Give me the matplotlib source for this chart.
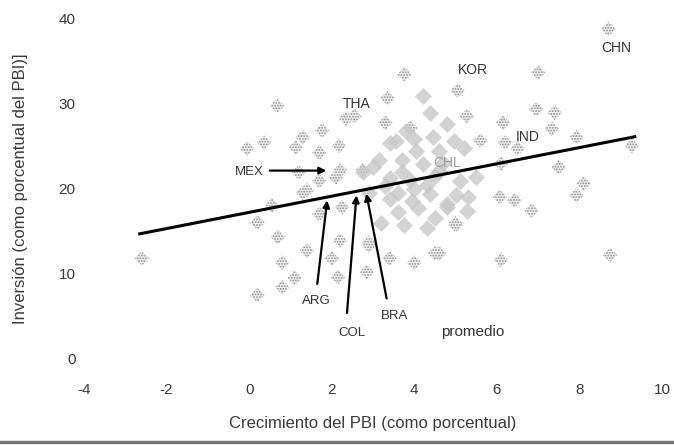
import matplotlib.pyplot as plt
from matplotlib.lines import Line2D

plt.rcParams['font.family'] = ['Liberation Sans', 'DejaVu Sans']
plt.rcParams['axes.unicode_minus'] = False
plt.rcParams['hatch.linewidth'] = 0.9

# Países dispersos (símbolos tramados)
x_claros = [-2.6, 0.2, 0.7, 1.4, 0.8, 0.2, 0.55, 1.3, 1.7, 2.2, 2.0, 2.9, 2.85,
            2.15, 3.4, 4.0, 1.4, 2.25, 5.0, 4.5, 3.76, 3.35, 5.05, 2.35, 2.55,
            3.3, 0.68, 1.77, 1.3, 1.13, 0.36, -0.05, 2.18, 1.7, 2.2, 1.2, 2.75,
            1.7, 2.1, 3.9, 7.0, 5.27, 6.15, 6.95, 7.4, 7.33, 7.93, 5.6, 6.2,
            6.5, 9.27, 7.5, 8.1, 7.93, 6.07, 6.43, 6.84, 5.0, 4.6, 6.1, 8.74,
            6.1, 8.7, 0.8, 1.1, 2.9]
y_claros = [11.8, 16.0, 14.3, 12.7, 11.3, 7.5, 18.0, 19.5, 17.0, 13.9, 11.8,
            13.6, 10.2, 9.6, 11.8, 11.3, 19.8, 17.8, 15.7, 12.4, 33.4, 30.6,
            31.5, 28.2, 28.5, 27.7, 29.7, 26.8, 26.0, 24.8, 25.4, 24.7, 25.0,
            24.2, 22.1, 21.9, 22.1, 20.9, 21.3, 27.1, 33.6, 28.5, 27.7, 29.3,
            28.9, 27.0, 26.0, 25.6, 25.4, 24.7, 25.0, 22.5, 20.6, 19.2, 19.0,
            18.6, 17.4, 15.9, 12.4, 11.6, 12.2, 22.9, 38.7, 8.4, 9.5, 13.3]

# Núcleo denso de observaciones (gris sólido)
x_oscuros = [4.2, 4.37, 4.8, 3.8, 3.4, 4.05, 4.6, 3.7, 4.2, 3.15, 3.55, 3.4,
             3.7, 3.4, 3.6, 3.75, 4.3, 4.1, 4.8, 5.0, 3.2, 4.3, 4.8, 5.27,
             4.37, 5.1, 5.5, 5.2, 4.95, 2.75, 2.9, 4.0, 4.6, 3.0,
             3.9, 4.5, 3.3, 4.7, 4.0, 3.6, 4.5, 5.3, 3.95, 4.45]
y_oscuros = [30.9, 28.8, 27.6, 26.8, 25.3, 24.4, 24.4, 23.3, 22.9, 23.3, 25.6,
             21.2, 21.9, 18.8, 17.2, 15.7, 15.4, 17.7, 18.2, 19.2, 16.0, 20.4,
             17.8, 17.4, 19.4, 20.9, 21.3, 24.8, 25.6, 21.9, 19.5, 20.0, 22.0,
             22.5, 21.0, 21.5, 20.3, 23.0, 25.8, 19.5, 16.5, 19.0, 18.5, 26.0]

# Recta de regresión: inversión = a + b * crecimiento
pendiente = 0.95
ordenada = 17.2
x_recta = [-2.65, 9.34]

etiquetas = ['THA', 'KOR', 'CHN', 'IND', 'CHL']
etiq_x = [2.6, 5.41, 8.9, 6.75, 4.8]
etiq_y = [29.9, 33.9, 36.5, 26.0, 23.0]

# Flechas: (texto, punta, texto en)
flechas = [
    ('MEX', (1.87, 22.1), (0.0, 21.9)),
    ('ARG', (1.89, 18.6), (1.63, 6.8)),
    ('COL', (2.6, 19.2), (2.48, 3.0)),
    ('BRA', (2.84, 19.4), (3.52, 5.1)),
]
colas = [(0.5, 22.1), (1.65, 8.8), (2.37, 5.4), (3.33, 7.1)]

fig = plt.figure(figsize=(6.74, 4.45), dpi=100)
ax = fig.add_axes([84 / 674, 1 - 359 / 445, 578 / 674, 341 / 445])

ax.scatter(x_claros, y_claros, marker='D', s=55, facecolor='#f0f0f0',
           edgecolor='#8c8c8c', linewidths=0, hatch='......', zorder=2)
ax.scatter(x_oscuros, y_oscuros, marker='D', s=75, color='#c8c8c8',
           linewidths=0, alpha=0.8, zorder=2)

y_recta = [ordenada + pendiente * x for x in x_recta]
ax.plot(x_recta, y_recta, color='black', lw=2.2, zorder=4)

for nombre, ex, ey in zip(etiquetas, etiq_x, etiq_y):
    col = '#a0a0a0' if nombre == 'CHL' else '#333333'
    ax.text(ex, ey, nombre, ha='center', va='center', fontsize=10, color=col,
            zorder=5)

for (nombre, punta, pos), cola in zip(flechas, colas):
    ax.annotate('', xy=punta, xytext=cola,
                arrowprops=dict(arrowstyle='-|>', color='black', lw=1.6,
                                mutation_scale=10, shrinkA=0, shrinkB=0),
                zorder=5)
    ax.text(pos[0], pos[1], nombre, ha='center', va='center', fontsize=9.5,
            color='#333333', zorder=5)

ax.text(5.41, 3.2, 'promedio', ha='center', va='center', fontsize=11,
        color='#333333')

ax.set_xlim(-4, 10)
ax.set_ylim(0, 40)
ax.set_xticks(range(-4, 11, 2))
ax.set_yticks(range(0, 41, 10))
ax.tick_params(length=0, labelsize=11, labelcolor='#3a3a3a')
ax.tick_params(axis='x', pad=17)
ax.tick_params(axis='y', pad=6)
for lado in ax.spines.values():
    lado.set_visible(False)

ax.set_xlabel('Crecimiento del PBI (como porcentual)', fontsize=12,
              color='#3a3a3a', labelpad=14)
ax.set_ylabel('Inversión (como porcentual del PBI)]', fontsize=12,
              color='#3a3a3a', labelpad=22)

fig.add_artist(Line2D([0, 1], [0.006, 0.006], color='#777777', lw=2.5))

fig.savefig('out.png', dpi=100)
